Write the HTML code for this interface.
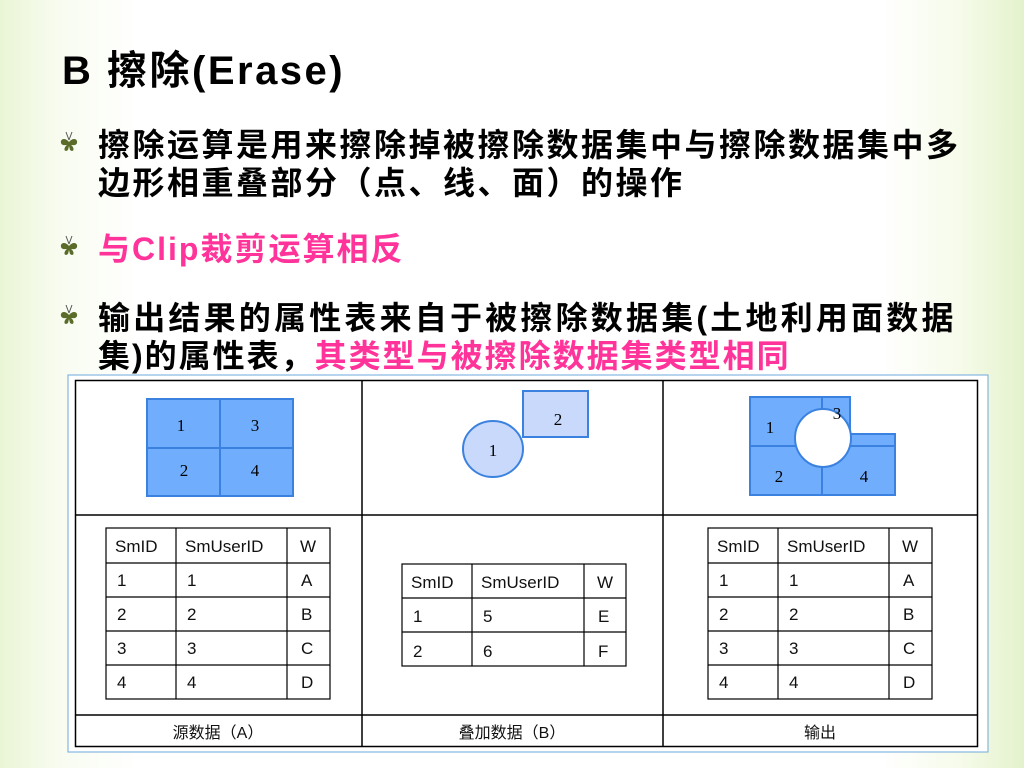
<!DOCTYPE html>
<html><head><meta charset="utf-8"><style>
body{margin:0;width:1024px;height:768px;overflow:hidden;position:relative;font-family:"Liberation Sans","Noto Sans CJK SC",sans-serif;
background:linear-gradient(90deg,#eaf5d6 0,#f8fcf0 60px,#fff 140px,#fff 880px,#f6fbea 960px,#e4f2cc 1024px);}
.t{position:absolute;font-weight:bold;color:#000;white-space:nowrap}
.p{color:#ff3399}
.b{position:absolute;left:58px;width:22px;height:26px}
</style></head><body>
<div class="t" style="left:62px;top:38px;font-size:40px;letter-spacing:2.5px">B 擦除(Erase)</div>
<svg class="b" style="top:130px" viewBox="0 0 22 26"><path d="M8 2L11 10M14 2L11 10" stroke="#555" fill="none"/><path d="M11 12C7 7 2 9 3 13C4 16 8 15 9 15C5 18 6 23 10 20L11 16L12 20C16 23 17 18 13 15C14 15 18 16 19 13C20 9 15 7 11 12Z" fill="#5a6b2a"/></svg>
<svg class="b" style="top:234px" viewBox="0 0 22 26"><path d="M8 2L11 10M14 2L11 10" stroke="#555" fill="none"/><path d="M11 12C7 7 2 9 3 13C4 16 8 15 9 15C5 18 6 23 10 20L11 16L12 20C16 23 17 18 13 15C14 15 18 16 19 13C20 9 15 7 11 12Z" fill="#5a6b2a"/></svg>
<svg class="b" style="top:303px" viewBox="0 0 22 26"><path d="M8 2L11 10M14 2L11 10" stroke="#555" fill="none"/><path d="M11 12C7 7 2 9 3 13C4 16 8 15 9 15C5 18 6 23 10 20L11 16L12 20C16 23 17 18 13 15C14 15 18 16 19 13C20 9 15 7 11 12Z" fill="#5a6b2a"/></svg>
<div class="t" style="left:98px;top:126px;font-size:32px;line-height:38px;letter-spacing:2.5px">擦除运算是用来擦除掉被擦除数据集中与擦除数据集中多<br>边形相重叠部分（点、线、面）的操作</div>
<div class="t p" style="left:98px;top:230px;font-size:32px;line-height:38px;letter-spacing:2px">与Clip裁剪运算相反</div>
<div class="t" style="left:98px;top:299px;font-size:32px;line-height:38px;letter-spacing:3.2px">输出结果的属性表来自于被擦除数据集(土地利用面数据<br><span style="letter-spacing:2px">集)的属性表，<span class="p">其类型与被擦除数据集类型相同</span></span></div>
<svg style="position:absolute;left:0;top:0" width="1024" height="768" font-family="Liberation Sans, Noto Sans CJK SC, sans-serif">
<rect x="68" y="375" width="920" height="377" fill="#fff" stroke="#6fa8dc" stroke-width="1"/>
<rect x="75.5" y="380.5" width="902" height="366" fill="#fff" stroke="#000" stroke-width="1.5"/>
<line x1="362" y1="380" x2="362" y2="747" stroke="#000" stroke-width="1.5"/>
<line x1="663" y1="380" x2="663" y2="747" stroke="#000" stroke-width="1.5"/>
<line x1="75" y1="515" x2="978" y2="515" stroke="#000" stroke-width="1.5"/>
<line x1="75" y1="715" x2="978" y2="715" stroke="#000" stroke-width="1.5"/>
<g stroke="#3b82e0" stroke-width="2" fill="#70aefd">
<rect x="147" y="399" width="146" height="97"/>
<line x1="220" y1="399" x2="220" y2="496"/><line x1="147" y1="448" x2="293" y2="448"/>
<rect x="523" y="391" width="65" height="46" fill="#c9d9fb"/>
<ellipse cx="493" cy="449" rx="30" ry="28" fill="#c9d9fb"/>
<path d="M750 397H850V434H895V495H750Z"/>
<line x1="750" y1="446" x2="895" y2="446"/><line x1="822" y1="397" x2="822" y2="495"/>
<ellipse cx="823" cy="438" rx="28" ry="29" fill="#fff"/>
</g>
<g font-size="17" text-anchor="middle" font-family="Liberation Serif, serif">
<text x="181" y="431">1</text><text x="255" y="431">3</text><text x="184" y="476">2</text><text x="255" y="476">4</text>
<text x="493" y="456">1</text><text x="558" y="425">2</text>
<text x="770" y="433">1</text><text x="837" y="419">3</text><text x="779" y="482">2</text><text x="864" y="482">4</text>
</g>
<g stroke="#000" stroke-width="1.2" fill="none">
<rect x="106" y="528" width="224" height="171"/><line x1="106" y1="563" x2="330" y2="563"/><line x1="106" y1="597" x2="330" y2="597"/><line x1="106" y1="631" x2="330" y2="631"/><line x1="106" y1="665" x2="330" y2="665"/><line x1="176" y1="528" x2="176" y2="699"/><line x1="287" y1="528" x2="287" y2="699"/>
<rect x="708" y="528" width="224" height="171"/><line x1="708" y1="563" x2="932" y2="563"/><line x1="708" y1="597" x2="932" y2="597"/><line x1="708" y1="631" x2="932" y2="631"/><line x1="708" y1="665" x2="932" y2="665"/><line x1="778" y1="528" x2="778" y2="699"/><line x1="889" y1="528" x2="889" y2="699"/>
<rect x="402" y="564" width="224" height="102"/><line x1="402" y1="598" x2="626" y2="598"/><line x1="402" y1="632" x2="626" y2="632"/><line x1="472" y1="564" x2="472" y2="666"/><line x1="584" y1="564" x2="584" y2="666"/>
</g>
<g font-size="17" fill="#111">
<text x="115" y="552">SmID</text><text x="185" y="552">SmUserID</text><text x="300" y="552">W</text>
<text x="117" y="586">1</text><text x="187" y="586">1</text><text x="301" y="586">A</text>
<text x="117" y="620">2</text><text x="187" y="620">2</text><text x="301" y="620">B</text>
<text x="117" y="654">3</text><text x="187" y="654">3</text><text x="301" y="654">C</text>
<text x="117" y="688">4</text><text x="187" y="688">4</text><text x="301" y="688">D</text>
<text x="717" y="552">SmID</text><text x="787" y="552">SmUserID</text><text x="902" y="552">W</text>
<text x="719" y="586">1</text><text x="789" y="586">1</text><text x="903" y="586">A</text>
<text x="719" y="620">2</text><text x="789" y="620">2</text><text x="903" y="620">B</text>
<text x="719" y="654">3</text><text x="789" y="654">3</text><text x="903" y="654">C</text>
<text x="719" y="688">4</text><text x="789" y="688">4</text><text x="903" y="688">D</text>
<text x="411" y="588">SmID</text><text x="481" y="588">SmUserID</text><text x="597" y="588">W</text>
<text x="413" y="622">1</text><text x="483" y="622">5</text><text x="598" y="622">E</text>
<text x="413" y="657">2</text><text x="483" y="657">6</text><text x="598" y="657">F</text>
</g>
<g font-size="16" text-anchor="middle" fill="#111">
<text x="218" y="738">源数据（A）</text><text x="512" y="738">叠加数据（B）</text><text x="820" y="738">输出</text>
</g>
</svg>
</body></html>
